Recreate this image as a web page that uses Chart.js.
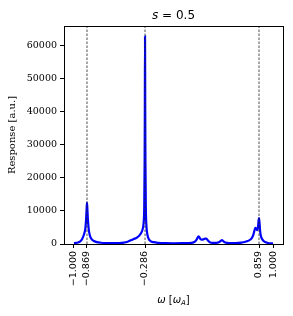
<!DOCTYPE html>
<html>
<head>
<meta charset="utf-8">
<script src="https://cdn.jsdelivr.net/npm/chart.js@4/dist/chart.umd.min.js"></script>
<style>
  html, body { margin: 0; padding: 0; background: #fff; }
  #wrap { width: 293px; height: 316px; }
</style>
</head>
<body>
<div id="wrap"><canvas id="chart"></canvas></div>
<script>
// --- data ---
const omega = [
  -1.000, -0.980, -0.960, -0.940, -0.925, -0.910, -0.895, -0.885, -0.878, -0.873,
  -0.869, -0.865, -0.860, -0.852, -0.842, -0.830, -0.815, -0.800, -0.770, -0.730,
  -0.680, -0.620, -0.560, -0.500, -0.460, -0.430, -0.400, -0.370, -0.345, -0.325,
  -0.310, -0.300, -0.294, -0.290, -0.288, -0.286, -0.284, -0.282, -0.278, -0.272,
  -0.262, -0.250, -0.230, -0.200, -0.150, -0.080, 0.000, 0.100, 0.180, 0.215,
  0.235, 0.252, 0.268, 0.285, 0.300, 0.318, 0.330, 0.345, 0.365, 0.390,
  0.430, 0.460, 0.475, 0.487, 0.500, 0.520, 0.560, 0.620, 0.680, 0.730,
  0.760, 0.785, 0.800, 0.812, 0.822, 0.832, 0.842, 0.850, 0.855, 0.859,
  0.864, 0.870, 0.878, 0.890, 0.905, 0.925, 0.950, 0.975, 1.000
];
const response = [
  250, 320, 450, 700, 1200, 2000, 3300, 4800, 7500, 10500,
  12500, 10500, 7500, 4600, 2800, 1800, 1200, 900, 550, 380,
  290, 250, 280, 400, 700, 1100, 1500, 1900, 2500, 3300,
  4500, 6500, 11000, 25000, 40000, 62800, 40000, 25000, 11000, 5500,
  2800, 1600, 900, 550, 350, 260, 230, 260, 350, 700,
  1500, 2350, 1600, 1300, 1400, 1650, 1650, 1100, 550, 350,
  350, 600, 950, 1150, 850, 450, 300, 300, 400, 750,
  1100, 1700, 2600, 3900, 4900, 4600, 4200, 5500, 7200, 7850,
  6500, 4000, 2400, 1500, 900, 500, 300, 200, 150
];
const resonances = [-0.869, -0.286, 0.859];
const xTicks = [-1.000, -0.869, -0.286, 0.859, 1.000];
const yTicks = [0, 10000, 20000, 30000, 40000, 50000, 60000];
const xRange = [-1.1, 1.1];
const yRange = [0, 65900];

const curve = omega.map((w, i) => ({ x: w, y: response[i] }));

const datasets = resonances.map(w => ({
  data: [{ x: w, y: yRange[0] }, { x: w, y: yRange[1] }],
  borderColor: '#222',
  borderWidth: 0.8,
  borderDash: [2.5, 1.5],
  pointRadius: 0,
  order: 0
}));
datasets.push({
  data: curve,
  borderColor: '#0000ff',
  borderWidth: 2.2,
  pointRadius: 0,
  cubicInterpolationMode: 'monotone',
  order: 1
});

function fmtX(v) {
  return (v < 0 ? '\u2212' : '') + Math.abs(v).toFixed(3);
}

// box, title and axis labels
const decor = {
  id: 'decor',
  afterDraw(chart) {
    const { ctx, chartArea: a } = chart;
    ctx.save();
    ctx.strokeStyle = '#000';
    ctx.lineWidth = 1;
    ctx.strokeRect(Math.round(a.left) + 0.5, Math.round(a.top) + 0.5,
      Math.round(a.right - a.left), Math.round(a.bottom - a.top));

    const cx = (a.left + a.right) / 2;
    ctx.fillStyle = '#000';
    ctx.textBaseline = 'alphabetic';
    ctx.textAlign = 'left';

    // title: s = 0.5
    const parts = [['italic 12px "DejaVu Sans"', 's'], ['12px "DejaVu Sans"', ' = 0.5']];
    let w = 0;
    parts.forEach(p => { ctx.font = p[0]; w += ctx.measureText(p[1]).width; });
    let x = cx - w / 2;
    parts.forEach(p => { ctx.font = p[0]; ctx.fillText(p[1], x, 19); x += ctx.measureText(p[1]).width; });

    // x label: ω [ω_A]
    const xl = [['italic 10px "DejaVu Sans"', '\u03c9', 0], ['10px "DejaVu Sans"', ' [', 0],
      ['italic 10px "DejaVu Sans"', '\u03c9', 0], ['italic 7px "DejaVu Sans"', 'A', 2],
      ['10px "DejaVu Sans"', ']', 0]];
    w = 0;
    xl.forEach(p => { ctx.font = p[0]; w += ctx.measureText(p[1]).width; });
    x = cx - w / 2;
    xl.forEach(p => { ctx.font = p[0]; ctx.fillText(p[1], x, 303 + p[2]); x += ctx.measureText(p[1]).width; });

    // y label
    ctx.translate(15, (a.top + a.bottom) / 2);
    ctx.rotate(-Math.PI / 2);
    ctx.textAlign = 'center';
    ctx.font = '10px "DejaVu Serif"';
    ctx.fillText('Response [a.u.]', 0, 0);
    ctx.restore();
  }
};

new Chart(document.getElementById('chart'), {
  type: 'line',
  data: { datasets },
  options: {
    responsive: true,
    maintainAspectRatio: false,
    animation: false,
    layout: { padding: { top: 26, right: 10, left: 0, bottom: 0 } },
    plugins: { legend: { display: false }, tooltip: { enabled: false } },
    scales: {
      x: {
        type: 'linear',
        min: xRange[0],
        max: xRange[1],
        afterBuildTicks: s => { s.ticks = xTicks.map(v => ({ value: v })); },
        afterFit: s => { s.height = 72; },
        border: { display: false },
        grid: { drawOnChartArea: false, tickLength: 4, color: '#000', lineWidth: 1 },
        ticks: {
          autoSkip: false,
          minRotation: 90,
          maxRotation: 90,
          padding: 3,
          color: '#000',
          font: { family: 'DejaVu Sans', size: 9.5 },
          callback: v => fmtX(v)
        }
      },
      y: {
        type: 'linear',
        min: yRange[0],
        max: yRange[1],
        afterBuildTicks: s => { s.ticks = yTicks.map(v => ({ value: v })); },
        afterFit: s => { s.width = 64; },
        border: { display: false },
        grid: { drawOnChartArea: false, tickLength: 4, color: '#000', lineWidth: 1 },
        ticks: {
          padding: 3,
          color: '#000',
          font: { family: 'DejaVu Serif', size: 9.5 },
          callback: v => String(v)
        }
      }
    }
  },
  plugins: [decor]
});
</script>
</body>
</html>
